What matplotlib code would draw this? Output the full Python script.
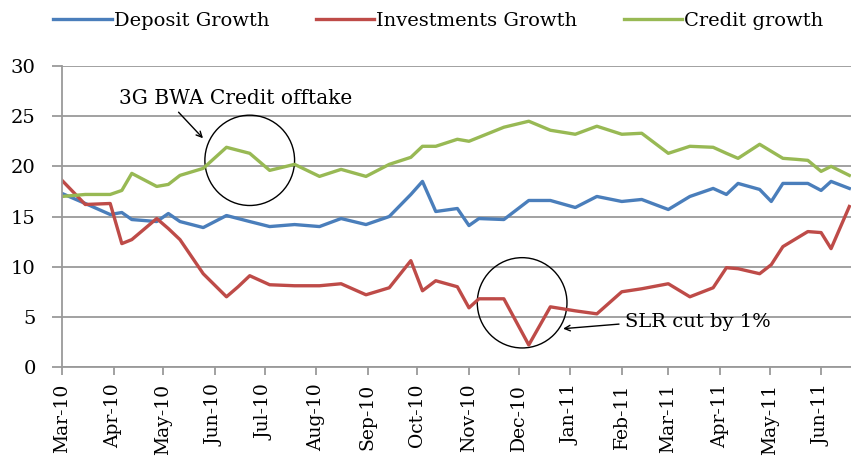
import matplotlib.pyplot as plt
import matplotlib.dates as mdates
from matplotlib.patches import Ellipse
import pandas as pd

# reporting dates
dates = ["2010-03-01", "2010-03-15", "2010-03-30", "2010-04-06", "2010-04-12",
         "2010-04-27", "2010-05-04", "2010-05-11", "2010-05-25", "2010-06-08",
         "2010-06-15", "2010-06-22", "2010-07-04", "2010-07-19", "2010-08-03",
         "2010-08-16", "2010-08-31", "2010-09-14", "2010-09-27", "2010-10-04",
         "2010-10-12", "2010-10-25", "2010-11-01", "2010-11-07", "2010-11-22",
         "2010-12-07", "2010-12-20", "2011-01-04", "2011-01-17", "2011-02-01",
         "2011-02-13", "2011-03-01", "2011-03-14", "2011-03-28", "2011-04-05",
         "2011-04-12", "2011-04-25", "2011-05-02", "2011-05-09", "2011-05-17",
         "2011-05-24", "2011-06-01", "2011-06-07", "2011-06-18"]

deposit = [17.3, 16.3, 15.2, 15.4, 14.7, 14.5, 15.3, 14.5, 13.9, 15.1,
           14.8, 14.5, 14.0, 14.2, 14.0, 14.8, 14.2, 15.0, 17.2, 18.5,
           15.5, 15.8, 14.1, 14.8, 14.7, 16.6, 16.6, 15.9, 17.0, 16.5,
           16.7, 15.7, 17.0, 17.8, 17.2, 18.3, 17.7, 16.5, 18.3, 18.3,
           18.3, 17.6, 18.5, 17.8]

investments = [18.6, 16.2, 16.3, 12.3, 12.7, 14.8, 13.8, 12.7, 9.3, 7.0,
               8.0, 9.1, 8.2, 8.1, 8.1, 8.3, 7.2, 7.9, 10.6, 7.6,
               8.6, 8.0, 5.9, 6.8, 6.8, 2.2, 6.0, 5.6, 5.3, 7.5,
               7.8, 8.3, 7.0, 7.9, 9.9, 9.8, 9.3, 10.2, 12.0, 12.8,
               13.5, 13.4, 11.8, 16.0]

credit = [17.0, 17.2, 17.2, 17.6, 19.3, 18.0, 18.2, 19.1, 19.8, 21.9,
          21.6, 21.3, 19.6, 20.2, 19.0, 19.7, 19.0, 20.2, 20.9, 22.0,
          22.0, 22.7, 22.5, 22.9, 23.9, 24.5, 23.6, 23.2, 24.0, 23.2,
          23.3, 21.3, 22.0, 21.9, 21.3, 20.8, 22.2, 21.5, 20.8, 20.7,
          20.6, 19.5, 20.0, 19.1]

x = pd.to_datetime(dates)
serif = "DejaVu Serif"

fig = plt.figure(figsize=(8.51, 4.66), dpi=100)
ax = fig.add_axes([0.0729, 0.2124, 0.9271, 0.6459])

l1, = ax.plot(x, deposit, color="#4a7ebb", lw=2.4, label="Deposit Growth")
l2, = ax.plot(x, investments, color="#be4b48", lw=2.4, label="Investments Growth")
l3, = ax.plot(x, credit, color="#98b954", lw=2.4, label="Credit growth")

ax.set_ylim(0, 30)
ax.set_yticks(range(0, 31, 5))
ax.set_xlim(pd.Timestamp("2010-03-01"), pd.Timestamp("2011-06-19"))
ax.xaxis.set_major_locator(mdates.MonthLocator())
ax.xaxis.set_major_formatter(mdates.DateFormatter("%b-%y"))
ax.yaxis.grid(True, color="#9a9a9a", lw=1.3)
ax.set_axisbelow(True)

for s in ["top", "right"]:
    ax.spines[s].set_visible(False)
for s in ["left", "bottom"]:
    ax.spines[s].set_color("#9a9a9a")
    ax.spines[s].set_linewidth(1.3)
ax.tick_params(axis="both", color="#9a9a9a", length=6, width=1.3)
ax.tick_params(axis="x", labelrotation=90, labelsize=13.5, pad=6)
ax.tick_params(axis="y", labelsize=14, length=7, pad=12)
for lab in ax.get_xticklabels() + ax.get_yticklabels():
    lab.set_family(serif)

# annotations
ax.add_patch(Ellipse((mdates.date2num(pd.Timestamp("2010-06-22")), 20.6),
                     54, 9, fill=False, color="black", lw=1))
ax.add_patch(Ellipse((mdates.date2num(pd.Timestamp("2010-12-03")), 6.4),
                     54, 9, fill=False, color="black", lw=1))
ax.annotate("", xy=(pd.Timestamp("2010-05-26"), 22.6),
            xytext=(pd.Timestamp("2010-05-09"), 25.6),
            arrowprops=dict(arrowstyle="->", color="black", lw=1))
ax.text(pd.Timestamp("2010-04-04"), 26.8, "3G BWA Credit offtake",
        family=serif, fontsize=14.5, va="center")
ax.annotate("", xy=(pd.Timestamp("2010-12-26"), 3.8),
            xytext=(pd.Timestamp("2011-02-01"), 4.3),
            arrowprops=dict(arrowstyle="->", color="black", lw=1))
ax.text(pd.Timestamp("2011-02-03"), 4.5, "SLR cut by 1%",
        family=serif, fontsize=14, va="center")

fig.legend(handles=[l1, l2, l3], loc="center", bbox_to_anchor=(0.515, 0.955),
           ncol=3, frameon=False, handlelength=3.0, handletextpad=0.1,
           columnspacing=2.4, prop={"family": serif, "size": 14})

plt.savefig("out.png", dpi=100)
